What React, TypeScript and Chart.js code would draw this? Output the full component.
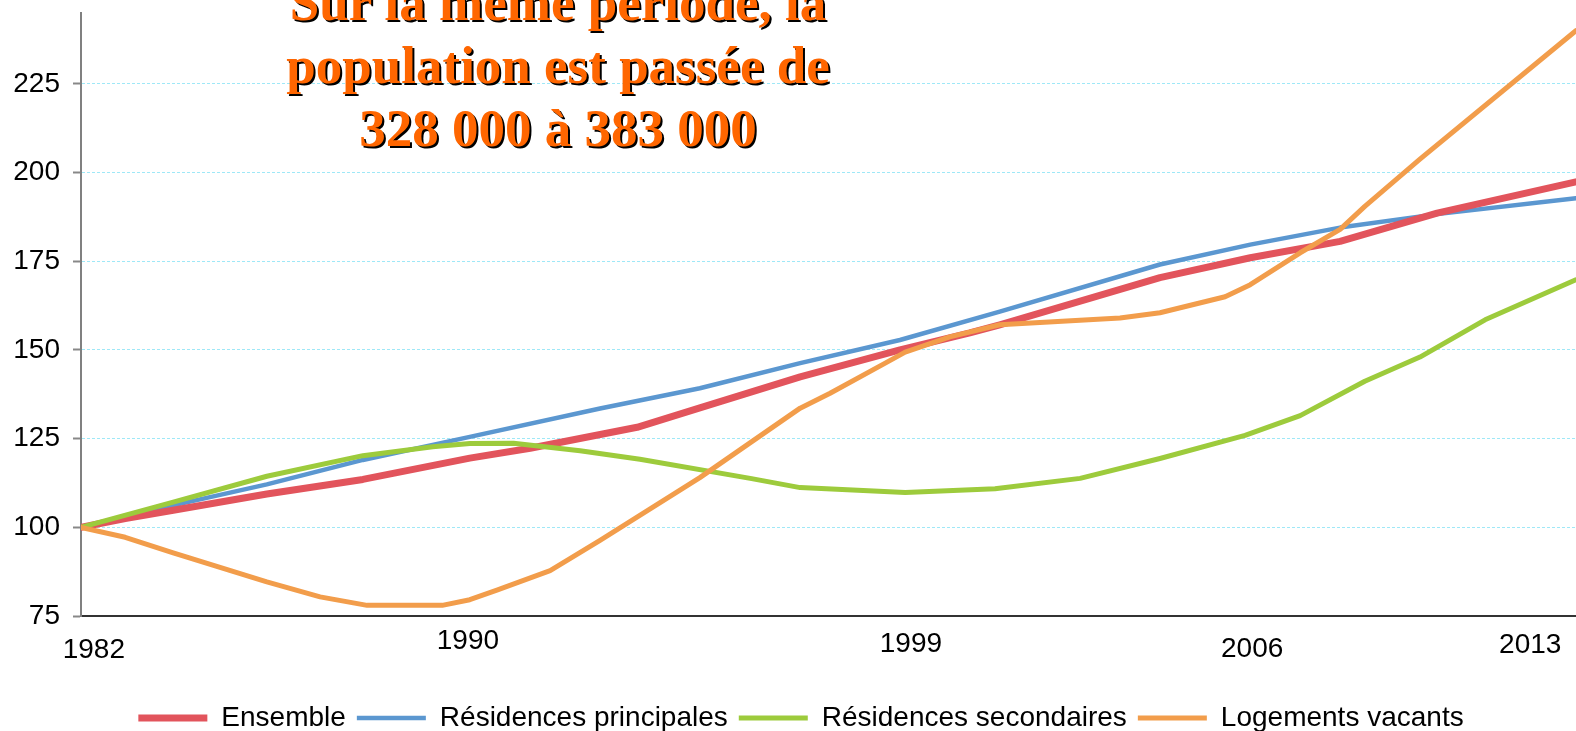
import { useEffect, useRef } from "react";
import { Chart, registerables } from "chart.js";

Chart.register(...registerables);

const FONT = "'Liberation Sans', Arial, Helvetica, sans-serif";

// Axis ticks
const yTickValues = [75, 100, 125, 150, 175, 200, 225];
const xTickLabels = ["1982", "1990", "1999", "2006", "2013"];
const xTickValues = [1982.27, 1990.14, 1999.46, 2006.64, 2012.49];
const xTickLineHeights = [54, 36, 42, 52, 44];

// Series (index, base 100 in 1982)
const ensembleYears = [1982, 1982.93, 1983.94, 1985.91, 1987.93, 1990.18, 1991.45, 1993.7, 1995.02, 1997.13, 1999.23, 2000.7, 2001.33, 2004.7, 2006.6, 2008.49, 2010.53, 2013.45];
const ensembleValues = [100, 102.5, 104.8, 109.4, 113.5, 119.5, 122.3, 128.2, 133.7, 142.4, 150, 154.8, 157.1, 170.4, 176, 180.6, 188.6, 197.4];

const principalesYears = [1982, 1983.94, 1985.91, 1987.93, 1990.18, 1992.92, 1995.02, 1997.13, 1999.23, 2001.33, 2004.7, 2006.6, 2008.49, 2010.53, 2013.45];
const principalesValues = [100, 106.2, 112.1, 119, 125.5, 133.5, 139.2, 146.3, 152.8, 160.8, 174.1, 179.7, 184.5, 188.3, 192.8];

const secondairesYears = [1982, 1983.94, 1985.91, 1987.93, 1989.4, 1990.18, 1991.1, 1992.5, 1993.76, 1996.08, 1997.13, 1999.34, 2001.23, 2003.02, 2004.7, 2006.49, 2007.65, 2009.01, 2010.17, 2011.54, 2013.45];
const secondairesValues = [100, 107.1, 114.4, 120.2, 122.7, 123.6, 123.7, 121.6, 119.2, 113.8, 111.2, 109.8, 110.9, 113.8, 119.4, 125.9, 131.5, 141.2, 148, 158.5, 169.8];

const vacantsYears = [1982, 1982.93, 1983.94, 1985.91, 1987.03, 1988.02, 1989.6, 1990.18, 1990.75, 1991.87, 1992.92, 1995.02, 1997.13, 1997.76, 1998.92, 1999.34, 2000.28, 2001.33, 2003.86, 2004.7, 2006.07, 2006.6, 2007.65, 2008.49, 2009.01, 2010.17, 2013.45];
const vacantsValues = [100, 97.2, 92.8, 84.6, 80.4, 78, 78, 79.6, 82.3, 87.8, 96.3, 114, 133.6, 137.8, 146.3, 149.4, 153.7, 157.1, 159, 160.5, 165, 168.4, 177.4, 184, 190.5, 203.8, 240];

const RED = "#E2545C";
const BLUE = "#5B97D0";
const GREEN = "#9DCB3C";
const ORANGE = "#F29D4B";

function series(label: string, xs: number[], ys: number[], color: string, width: number, order: number) {
  return {
    label,
    data: xs.map((x, i) => ({ x, y: ys[i] })),
    borderColor: color,
    backgroundColor: color,
    borderWidth: width,
    borderCapStyle: "round" as const,
    borderJoinStyle: "round" as const,
    pointRadius: 0,
    pointStyle: "line" as const,
    tension: 0,
    order,
  };
}

export default function App() {
  const ref = useRef<HTMLCanvasElement>(null);

  useEffect(() => {
    document.body.style.margin = "0";
    document.body.style.overflow = "hidden";
    const canvas = ref.current!;
    const chart = new Chart(canvas, {
      type: "line",
      data: {
        datasets: [
          series("Ensemble", ensembleYears, ensembleValues, RED, 7, 2),
          series("Résidences principales", principalesYears, principalesValues, BLUE, 4.5, 3),
          series("Résidences secondaires", secondairesYears, secondairesValues, GREEN, 5, 1),
          series("Logements vacants", vacantsYears, vacantsValues, ORANGE, 5, 0),
        ],
      },
      options: {
        responsive: false,
        animation: false,
        devicePixelRatio: 1,
        layout: { padding: { top: 0, left: 0, right: 0, bottom: 0 } },
        plugins: {
          tooltip: { enabled: false },
          title: { display: false },
          legend: {
            position: "bottom",
            labels: {
              usePointStyle: true,
              pointStyle: "line",
              pointStyleWidth: 69,
              color: "#000",
              padding: 11,
              font: { family: FONT, size: 28 },
              sort: (a: any, b: any) => a.datasetIndex - b.datasetIndex,
            },
          },
        },
        scales: {
          x: {
            type: "linear",
            min: 1982,
            max: 2014,
            grid: { display: false, drawTicks: false },
            border: { display: true, color: "#333", width: 2 },
            afterBuildTicks: (s: any) => {
              s.ticks = xTickValues.map((v) => ({ value: v }));
            },
            afterFit: (s: any) => {
              s.height = 77;
            },
            ticks: {
              autoSkip: false,
              maxRotation: 0,
              padding: 7,
              color: "#000",
              font: (ctx: any) => ({ family: FONT, size: 28, lineHeight: (xTickLineHeights[ctx.index] ?? 40) / 28 }),
              callback: (_v: any, i: number) => xTickLabels[i],
            },
          },
          y: {
            min: 75,
            max: 245,
            afterBuildTicks: (s: any) => {
              s.ticks = yTickValues.map((v) => ({ value: v }));
            },
            afterFit: (s: any) => {
              s.width = 81;
              s.paddingTop = 13;
            },
            grid: {
              color: "#9fe8f7",
              lineWidth: 1,
              tickColor: "#888",
              tickLength: 8,
              tickWidth: 2,
              tickBorderDash: [],
            },
            border: { display: true, color: "#808080", width: 2, dash: [3, 2] },
            ticks: { padding: 13, color: "#000", font: { family: FONT, size: 28, lineHeight: 26 / 28 } },
          },
        },
      },
    } as any);
    return () => chart.destroy();
  }, []);

  return (
    <div style={{ position: "fixed", left: 0, top: 0, width: 1576, height: 731, overflow: "hidden", background: "#fff" }}>
      <canvas ref={ref} width={1602} height={742} style={{ position: "absolute", left: 0, top: 0, width: 1602, height: 742 }} />
      <div
        style={{
          position: "absolute",
          left: 58,
          top: -29,
          width: 1000,
          textAlign: "center",
          font: "bold 53px/63px 'Liberation Serif', 'Times New Roman', serif",
          color: "#FF6600",
          textShadow: "2px 2px 0 #000",
          pointerEvents: "none",
          whiteSpace: "nowrap",
        }}
      >
        <div>Sur la même période, la</div>
        <div>population est passée de</div>
        <div>328 000 à 383 000</div>
      </div>
    </div>
  );
}
